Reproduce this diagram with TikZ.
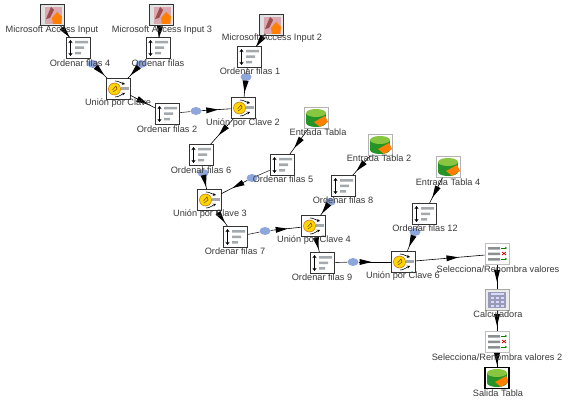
\documentclass[tikz,border=0pt]{standalone}
\usepackage{fontspec}
\setmainfont{Liberation Sans}
\usetikzlibrary{decorations.markings,arrows.meta,shapes.geometric}
\definecolor{txt}{HTML}{3A3A3A}
\definecolor{infoblue}{HTML}{8FA6DC}
\definecolor{bar}{HTML}{A4A9AD}
\definecolor{accessbg}{HTML}{D9A8B0}
\tikzset{
  iconbase/.style={minimum width=24pt,minimum height=21pt,inner sep=0pt,draw=black!80,line width=.6pt,fill=white},
  sorticon/.style={iconbase,path picture={
    \begin{scope}[shift={(path picture bounding box.center)}]
      \draw[black,line width=.7pt,{Stealth[length=3pt,width=4pt]}-{Stealth[length=3pt,width=4pt]}] (-7.5,-8)--(-7.5,8);
      \fill[bar] (-3,-7) rectangle (10,-4.5) (-3,-1.5) rectangle (6,1) (-3,4) rectangle (3,6.5);
    \end{scope}}},
  unionicon/.style={iconbase,path picture={
    \begin{scope}[shift={(path picture bounding box.center)}]
      \fill[yellow!75!orange,draw=orange!80!black,line width=.5pt] (-3.5,0) circle (6);
      \draw[orange!50!black,line width=.5pt] (-5.5,1)--(-2,-3)--(-1,0)--(-5,3);
      \draw[black,line width=.6pt,-{Stealth[length=3pt,width=3pt]}] (-3,-8) .. controls (1,-8) and (2,-6) .. (7,-5);
      \draw[black,line width=.6pt,-{Stealth[length=3pt,width=3pt]}] (-3,8) .. controls (1,8) and (2,6) .. (7,4);
      \fill[bar] (3,-2) rectangle (11,1);
    \end{scope}}},
  accessicon/.style={iconbase,fill=black!10,path picture={
    \begin{scope}[shift={(path picture bounding box.center)}]
      \fill[accessbg] (-10,-8) rectangle (10,9);
      \fill[black!12] (-11,-11) rectangle (-7,11);
      \fill[red!45!black!70!white] (-6,4) -- (-1,-8) -- (2,-5) -- (-2,3) -- cycle;
      \fill[orange] (0,3) -- (5,-3) -- (10,2) -- (9,9) -- (1,9) -- cycle;
    \end{scope}}},
  tableicon/.style={iconbase,draw=black!30,path picture={
    \begin{scope}[shift={(path picture bounding box.center)}]
      \fill[green!50!black!85!white] (-10,-5) rectangle (10,5);
      \fill[green!50!black!85!white] (0,5) ellipse (10 and 4);
      \fill[green!45!yellow!70!black!75!white] (0,-5) ellipse (10 and 4);
      \fill[orange] (-2,4) -- (9,-2) -- (12,4) -- (4,9) -- cycle;
    \end{scope}}},
  outicon/.style={tableicon,draw=black,line width=1.3pt},
  selicon/.style={iconbase,draw=black!25,path picture={
    \begin{scope}[shift={(path picture bounding box.center)}]
      \fill[bar!85!black] (-9,-7) rectangle (3,-4.5) (-9,-1.5) rectangle (3,1) (-9,4) rectangle (3,6.5);
      \draw[green!50!black,line width=.7pt,-{Stealth[length=2pt,width=2.5pt]}] (4,-6)--(10,-6);
      \draw[red!80!black,line width=.7pt] (5,-2)--(9,1) (5,1)--(9,-2);
      \draw[green!50!black,line width=.7pt,-{Stealth[length=2pt,width=2.5pt]}] (4,5)--(10,5);
    \end{scope}}},
  calcicon/.style={iconbase,draw=black!35,fill=black!8,path picture={
    \begin{scope}[shift={(path picture bounding box.center)}]
      \fill[blue!30!black!40!white] (-9,-8) rectangle (9,8);
      \foreach \u in {-6,-1,4}{\foreach \v in {-3,1,5}{\fill[white!85!blue] (\u,\v) rectangle +(3,2);}}
      \fill[white!85!blue] (-6,-7) rectangle (7,-5);
    \end{scope}}},
  lab/.style={font=\fontsize{9.2}{10}\selectfont,text=txt,inner sep=0pt},
  info/.style={ellipse,fill=infoblue,minimum width=11pt,minimum height=8pt,inner sep=0pt},
  hop/.style={line width=.6pt,black,postaction={decorate},decoration={markings,
    mark=at position #1 with {\fill[black] (5,0)--(-7,3)--(-7,-3)--cycle;}}},
  hop/.default=0.5,
  plainhop/.style={line width=.6pt,black!80},
}
\begin{document}
\begin{tikzpicture}[x=1pt,y=-1pt]
\useasboundingbox (0,0) rectangle (572,406);
\fill[white] (0,0) rectangle (572,406);
% icons
\node[accessicon] (ai1) at (52,15) {};
\node[accessicon] (ai3) at (161,15) {};
\node[accessicon] (ai2) at (271,25) {};
\node[sorticon] (o4) at (78,48) {};
\node[sorticon] (o0) at (158,48) {};
\node[sorticon] (o1) at (249,57) {};
\node[unionicon] (u1) at (118,89) {};
\node[sorticon] (o2) at (167,114) {};
\node[unionicon] (u2) at (243,108) {};
\node[sorticon] (o6) at (201,155) {};
\node[sorticon] (o5) at (282,165) {};
\node[tableicon] (t1) at (316,118) {};
\node[unionicon] (u3) at (209,200) {};
\node[sorticon] (o7) at (235,237) {};
\node[unionicon] (u4) at (313,226) {};
\node[sorticon] (o8) at (343,186) {};
\node[tableicon] (t2) at (380,145) {};
\node[sorticon] (o9) at (322,263) {};
\node[unionicon] (u6) at (403,262) {};
\node[sorticon] (o12) at (424,214) {};
\node[tableicon] (t4) at (448,167) {};
\node[selicon] (s1) at (497,254) {};
\node[calcicon] (c1) at (497,300) {};
\node[selicon] (s2) at (497,342) {};
\node[outicon] (out) at (497,378) {};
% info badges
\node[info] (i1) at (93,64) {};
\node[info] (i2) at (141,64) {};
\node[info] (i3) at (246,77) {};
\node[info] (i4) at (196,111) {};
\node[info] (i5) at (203,173) {};
\node[info] (i6) at (252,178) {};
\node[info] (i7) at (265,231) {};
\node[info] (i8) at (330,202) {};
\node[info] (i9) at (353,262) {};
\node[info] (i10) at (415,232) {};
% connectors
\draw[hop=.65] (ai1) -- (o4);
\draw[hop=.65] (ai3) -- (o0);
\draw[hop=.65] (ai2) -- (o1);
\draw[hop=.6] (t1) -- (o5);
\draw[hop=.6] (t2) -- (o8);
\draw[hop=.6] (t4) -- (o12);
\draw[plainhop] (o4) -- (i1); \draw[hop=.4] (i1) -- (u1);
\draw[plainhop] (o0) -- (i2); \draw[hop=.4] (i2) -- (u1);
\draw[plainhop] (o1) -- (i3); \draw[hop=.4] (i3) -- (u2);
\draw[hop=.55] (u1) -- (o2);
\draw[plainhop] (o2) -- (i4); \draw[hop=.4] (i4) -- (u2);
\draw[hop=.5] (u2) -- (o6);
\draw[plainhop] (o6) -- (i5); \draw[hop=.4] (i5) -- (u3);
\draw[plainhop] (o5) -- (i6); \draw[hop=.4] (i6) -- (u3);
\draw[hop=.5] (u3) -- (o7);
\draw[plainhop] (o7) -- (i7); \draw[hop=.4] (i7) -- (u4);
\draw[plainhop] (o8) -- (i8); \draw[hop=.4] (i8) -- (u4);
\draw[hop=.5] (u4) -- (o9);
\draw[plainhop] (o9) -- (i9); \draw[hop=.25] (i9) -- (u6);
\draw[plainhop] (o12) -- (i10); \draw[hop=.4] (i10) -- (u6);
\draw[hop=.55] (u6) -- (s1);
\draw[hop=.5] (s1) -- (c1);
\draw[hop=.5] (c1) -- (s2);
\draw[hop=.5] (s2) -- (out);
% labels
\node[lab] (l1) at (52,30) {Microsoft Access Input};
\node[lab] (l2) at (162,30) {Microsoft Access Input 3};
\node[lab] (l3) at (272,38) {Microsoft Access Input 2};
\node[lab] (l4) at (80,63) {Ordenar filas 4};
\node[lab] (l5) at (158,63) {Ordenar filas};
\node[lab] (l6) at (250,71) {Ordenar filas 1};
\node[lab] (l7) at (118,103) {Unión por Clave};
\node[lab] (l8) at (167,129) {Ordenar filas 2};
\node[lab] (l9) at (243,123) {Unión por Clave 2};
\node[lab] (l10) at (201,170) {Ordenar filas 6};
\node[lab] (l11) at (283,179) {Ordenar filas 5};
\node[lab] (l12) at (318,132) {Entrada Tabla};
\node[lab] (l13) at (210,214) {Unión por Clave 3};
\node[lab] (l14) at (235,251) {Ordenar filas 7};
\node[lab] (l15) at (314,240) {Unión por Clave 4};
\node[lab] (l16) at (343,200) {Ordenar filas 8};
\node[lab] (l17) at (379,158) {Entrada Tabla 2};
\node[lab] (l18) at (322,277) {Ordenar filas 9};
\node[lab] (l19) at (403,276) {Unión por Clave 6};
\node[lab] (l20) at (425,228) {Ordenar filas 12};
\node[lab] (l21) at (448,182) {Entrada Tabla 4};
\node[lab] (l22) at (498,269) {Selecciona/Renombra valores};
\node[lab] (l23) at (498,314) {Calculadora};
\node[lab] (l24) at (497,357) {Selecciona/Renombra valores 2};
\node[lab] (l25) at (498,393) {Salida Tabla};
\end{tikzpicture}
\end{document}
